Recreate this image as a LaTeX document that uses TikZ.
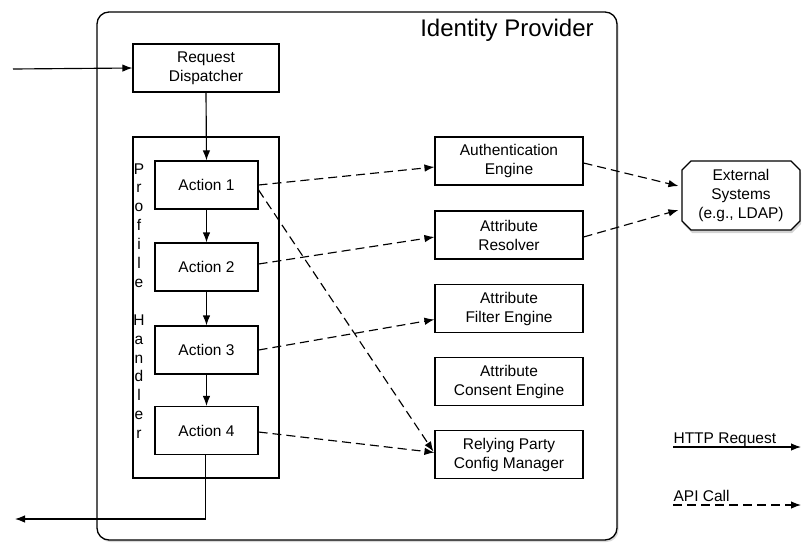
\documentclass[tikz,border=0pt]{standalone}
\usepackage{fontspec}
\setmainfont{Liberation Sans}
\usetikzlibrary{arrows.meta,shapes.misc,shadows,calc}
\begin{document}
\begin{tikzpicture}[x=1pt,y=-1pt,
  font=\fontsize{15.5}{19}\selectfont,
  line width=1.15pt,
  tip/.style={-{Latex[length=10pt,width=7.5pt]}},
  actbox/.style={draw,align=center,inner sep=0pt,minimum width=103pt,minimum height=48pt,fill=white},
  engbox/.style={draw,align=center,inner sep=0pt,minimum width=148pt,minimum height=48pt,fill=white},
  api/.style={tip,dash pattern=on 9pt off 5pt},
  http/.style={tip}]
\useasboundingbox (0,0) rectangle (802,544);

% outer Identity Provider container
\node[draw,line width=1.3pt,rounded corners=12pt,fill=white,
  drop shadow={shadow xshift=1.5pt,shadow yshift=-2pt,opacity=0.3},
  minimum width=520pt,minimum height=528pt,inner sep=0pt] (idp) at (357,276) {};
\node[font=\fontsize{24}{28}\selectfont] (title) at (507,30) {Identity Provider};

% request dispatcher
\node[engbox,minimum width=146pt] (disp) at (206,68) {Request\\Dispatcher};

% profile handler
\node[draw,minimum width=146pt,minimum height=341pt,inner sep=0pt] (ph) at (206,307.5) {};
\node[align=center,inner sep=0pt,font=\fontsize{15.5}{18.9}\selectfont] (phlabel) at (139,301)
  {P\\r\\o\\f\\i\\l\\e\\[18.9pt]H\\a\\n\\d\\l\\e\\r};

% actions
\node[actbox] (a1) at (206.5,185) {Action 1};
\node[actbox] (a2) at (206.5,267) {Action 2};
\node[actbox] (a3) at (206.5,350) {Action 3};
\node[actbox] (a4) at (206.5,430.5) {Action 4};

% engines
\node[engbox] (auth) at (509,161) {Authentication\\Engine};
\node[engbox] (res) at (509,235) {Attribute\\Resolver};
\node[engbox] (filt) at (509,308.5) {Attribute\\Filter Engine};
\node[engbox] (cons) at (509,381.5) {Attribute\\Consent Engine};
\node[engbox] (rp) at (509,454.5) {Relying Party\\Config Manager};

% external systems
\node[chamfered rectangle,chamfered rectangle xsep=4.5pt,chamfered rectangle ysep=4.5pt,
  draw,fill=white,align=center,minimum width=118pt,minimum height=69pt,inner sep=0pt,
  drop shadow={shadow xshift=1pt,shadow yshift=-3pt,opacity=0.35}] (ext) at (741,195.5)
  {External\\Systems\\(e.g., LDAP)};

% HTTP flow
\coordinate (in) at (13,69);
\coordinate (out) at (15,519);
\draw[http] (in) -- (disp.west);
\draw[http] (disp.south) -- (a1.north);
\draw[http] (a1.south) -- (a2.north);
\draw[http] (a2.south) -- (a3.north);
\draw[http] (a3.south) -- (a4.north);
\draw[http] ($(a4.south)+(-1,0)$) |- (out);

% API calls
\draw[api] (a1.east) -- ($(auth.west)+(0,6)$);
\draw[api] ($(a1.east)+(0,5)$) -- ($(rp.west)+(-1,-3)$);
\draw[api] ($(a2.east)+(0,-3)$) -- ($(res.west)+(0,2)$);
\draw[api] (a3.east) -- ($(filt.west)+(0,11)$);
\draw[api] ($(a4.east)+(0,1.5)$) -- ($(rp.west)+(0,-2)$);
\draw[api] ($(auth.east)+(0,2)$) -- ($(ext.west)+(-3,-9.5)$);
\draw[api] ($(res.east)+(0,2)$) -- ($(ext.west)+(-3,14.5)$);

% legend
\coordinate (h1) at (673,447);
\coordinate (h2) at (801,447);
\coordinate (c1) at (673,505);
\coordinate (c2) at (801,505);
\node[anchor=base west,inner sep=0pt] (lhttp) at (673,443) {HTTP Request};
\draw[http] (h1) -- (h2);
\node[anchor=base west,inner sep=0pt] (lapi) at (673,501) {API Call};
\draw[api] (c1) -- (c2);
\end{tikzpicture}
\end{document}
